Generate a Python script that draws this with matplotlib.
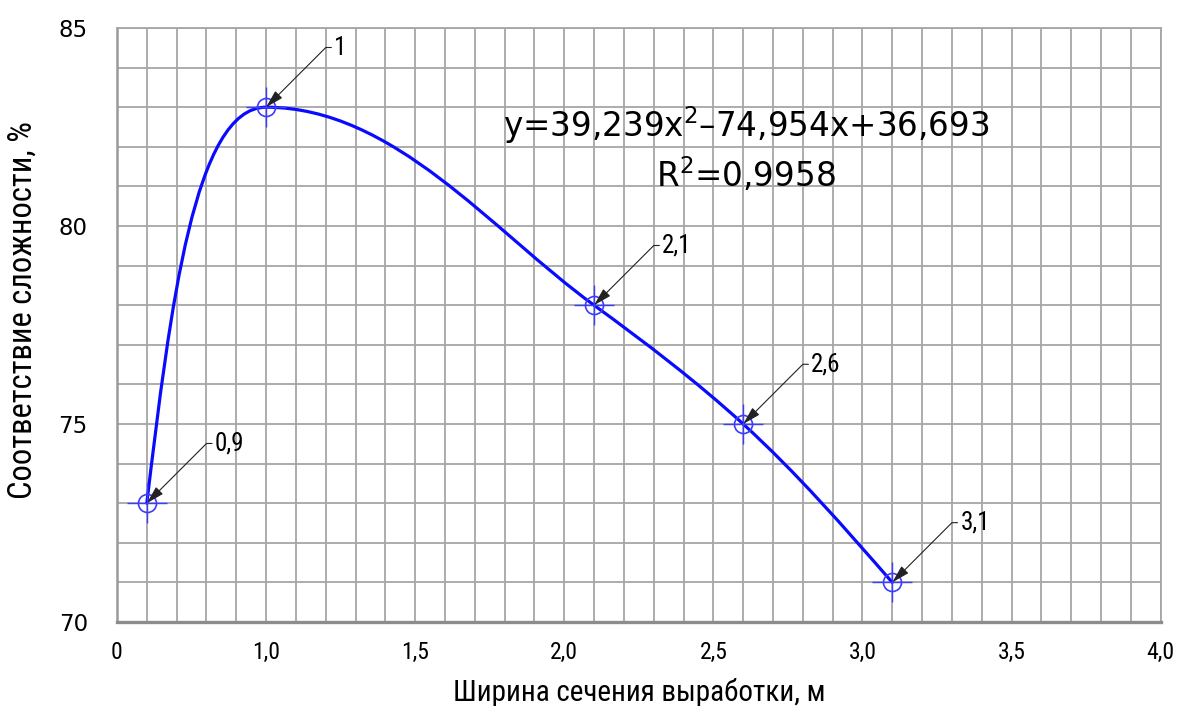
import numpy as np
import matplotlib
matplotlib.use("Agg")
import matplotlib.pyplot as plt
from matplotlib import font_manager as fm
from matplotlib.path import Path
from matplotlib.patches import PathPatch
from matplotlib.ticker import MultipleLocator

# данные
x_pts = [0.6, 1.0, 2.1, 2.6, 3.1]
y_pts = [73, 83, 78, 75, 71]
pt_labels = ["0,9", "1", "2,1", "2,6", "3,1"]
xtick_pos = [0.5, 1.0, 1.5, 2.0, 2.5, 3.0, 3.5, 4.0]
xtick_lab = ["0", "1,0", "1,5", "2,0", "2,5", "3,0", "3,5", "4,0"]
ytick_pos = [70, 75, 80, 85]
eq_text = "y=39,239x$^2$\u201374,954x+36,693"
r2_text = "R$^2$=0,9958"

names = {f.name for f in fm.fontManager.ttflist}
narrow = "DejaVu Sans"
for n in ["Roboto Condensed", "Liberation Sans Narrow", "Open Sans Condensed"]:
    if n in names:
        narrow = n
        break

plt.rcParams["mathtext.fontset"] = "dejavusans"

fig = plt.figure(figsize=(11.9, 7.06), dpi=100)
ax = fig.add_axes([0.0983, 0.119, 0.877, 0.8413])
ax.set_xlim(0.5, 4.0)
ax.set_ylim(70, 85)

# сетка
ax.xaxis.set_minor_locator(MultipleLocator(0.1))
ax.yaxis.set_minor_locator(MultipleLocator(1))
ax.grid(which="both", color="#a6a6a6", lw=1.3, zorder=0)
ax.set_axisbelow(True)
for s in ["top", "right"]:
    ax.spines[s].set_color("#a6a6a6")
    ax.spines[s].set_linewidth(1.3)
ax.spines["left"].set_color("#9a9a9a")
ax.spines["left"].set_linewidth(1.8)
ax.spines["bottom"].set_color("#8c8c8c")
ax.spines["bottom"].set_linewidth(2.4)

ax.set_xticks(xtick_pos)
ax.set_xticklabels(xtick_lab, fontfamily=narrow, fontsize=17)
ax.set_yticks(ytick_pos)
ax.set_yticklabels([str(v) for v in ytick_pos], fontsize=16.5)
ax.tick_params(which="both", length=0)
ax.tick_params(axis="x", pad=14)
ax.tick_params(axis="y", pad=21)

ax.set_xlabel("Ширина сечения выработки, м", fontsize=21, fontfamily=narrow)
ax.set_ylabel("Соответствие сложности, %", fontsize=23.5, fontfamily=narrow)
ax.xaxis.set_label_coords(0.5, -0.095)
ax.yaxis.set_label_coords(-0.075, 0.525)

# сглаженная линия: кубические кривые Безье, считаем в пикселях
P = ax.transData.transform(np.column_stack([x_pts, y_pts]))
n = len(P)
seg = P[1:] - P[:-1]
h = np.hypot(seg[:, 0], seg[:, 1])
u = seg / h[:, None]
left = np.zeros_like(P)
right = np.zeros_like(P)
for i in range(1, n - 1):
    if seg[i - 1, 1] * seg[i, 1] < 0:
        d = np.array([np.sign(seg[i, 0]), 0.0])
    else:
        d = (u[i] * h[i - 1] + u[i - 1] * h[i]) / (h[i - 1] + h[i])
    lo = d * h[i - 1] / 3
    ro = d * h[i] / 3
    if abs(lo[0]) > 0.6 * abs(seg[i - 1, 0]):
        lo *= 0.6 * abs(seg[i - 1, 0]) / abs(lo[0])
    if abs(ro[0]) > 0.6 * abs(seg[i, 0]):
        ro *= 0.6 * abs(seg[i, 0]) / abs(ro[0])
    left[i] = P[i] - lo
    right[i] = P[i] + ro
right[0] = (P[0] + left[1]) / 2
left[-1] = (P[-1] + right[-2]) / 2
verts = [P[0]]
codes = [Path.MOVETO]
for i in range(n - 1):
    verts += [right[i], left[i + 1], P[i + 1]]
    codes += [Path.CURVE4] * 3
verts = ax.transData.inverted().transform(np.array(verts))
ax.add_patch(PathPatch(Path(verts, codes), fill=False, edgecolor="#0a0aff",
                       lw=2.3, zorder=3, capstyle="round"))

ax.plot(x_pts, y_pts, ls="none", marker="o", ms=13, mfc="none",
        mec="#3c3cff", mew=1.2, zorder=4)
ax.plot(x_pts, y_pts, ls="none", marker="+", ms=29, mec="#3c3cff",
        mew=1.0, zorder=4)

for xv, yv, lab in zip(x_pts, y_pts, pt_labels):
    ax.annotate(lab, xy=(xv, yv), xytext=(49, 43), textcoords="offset points",
                ha="left", va="center", fontsize=18, fontfamily=narrow,
                arrowprops=dict(arrowstyle="-|>,head_length=1.1,head_width=0.3",
                                color="#222222", lw=0.8, mutation_scale=10,
                                connectionstyle="angle,angleA=0,angleB=45,rad=0",
                                shrinkA=0, shrinkB=0, relpos=(0, 0.5)),
                zorder=5)

ax.text(2.61, 82.55, eq_text, ha="center", va="center", fontsize=23.5, zorder=5)
ax.text(2.61, 81.3, r2_text, ha="center", va="center", fontsize=23.5, zorder=5)

fig.savefig("out.png", dpi=100)
